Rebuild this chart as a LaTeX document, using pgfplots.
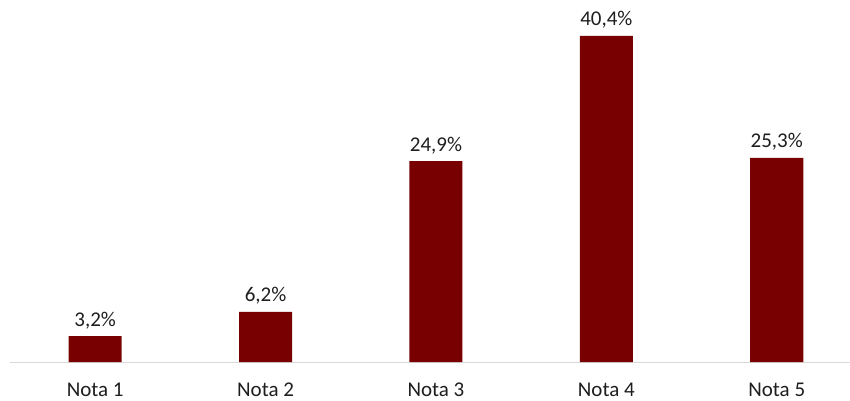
\documentclass[border=0pt]{standalone}
\usepackage{pgfplots}
\pgfplotsset{compat=1.18}
\usepackage{fontspec}
\setmainfont{Carlito}
\definecolor{barred}{RGB}{121,0,0}
\definecolor{axisgray}{RGB}{217,217,217}
\definecolor{txt}{RGB}{30,30,30}
\begin{document}
\begin{tikzpicture}
\path[use as bounding box] (-10pt,-38pt) rectangle (840pt,362pt);
\begin{axis}[
  at={(0,0)}, anchor=south west,
  scale only axis, width=840pt, height=362pt,
  xmin=-0.5, xmax=4.43, ymin=0, ymax=44.86,
  ybar, bar width=53pt,
  axis x line*=bottom, axis y line=none,
  axis line style={-, draw=axisgray, line width=1pt},
  xtick={0,1,2,3,4},
  xticklabels={Nota 1, Nota 2, Nota 3, Nota 4, Nota 5},
  major tick length=0pt,
  ytick=\empty,
  /pgf/number format/assume math mode=true,
  xticklabel style={anchor=base, inner sep=0pt, yshift=-34.7pt,
    font=\fontsize{21}{25}\selectfont, text=txt},
  nodes near coords={\pgfmathprintnumber[fixed,fixed zerofill,precision=1,use comma,assume math mode=true]{\pgfplotspointmeta}\%},
  every node near coord/.append style={anchor=base, inner sep=0pt, yshift=10pt,
    font=\fontsize{21}{25}\selectfont, text=txt},
]
\addplot[fill=barred, draw=none] coordinates {
  (0,3.2) (1,6.2) (2,24.9) (3,40.4) (4,25.3)
};
\end{axis}
\end{tikzpicture}
\end{document}
